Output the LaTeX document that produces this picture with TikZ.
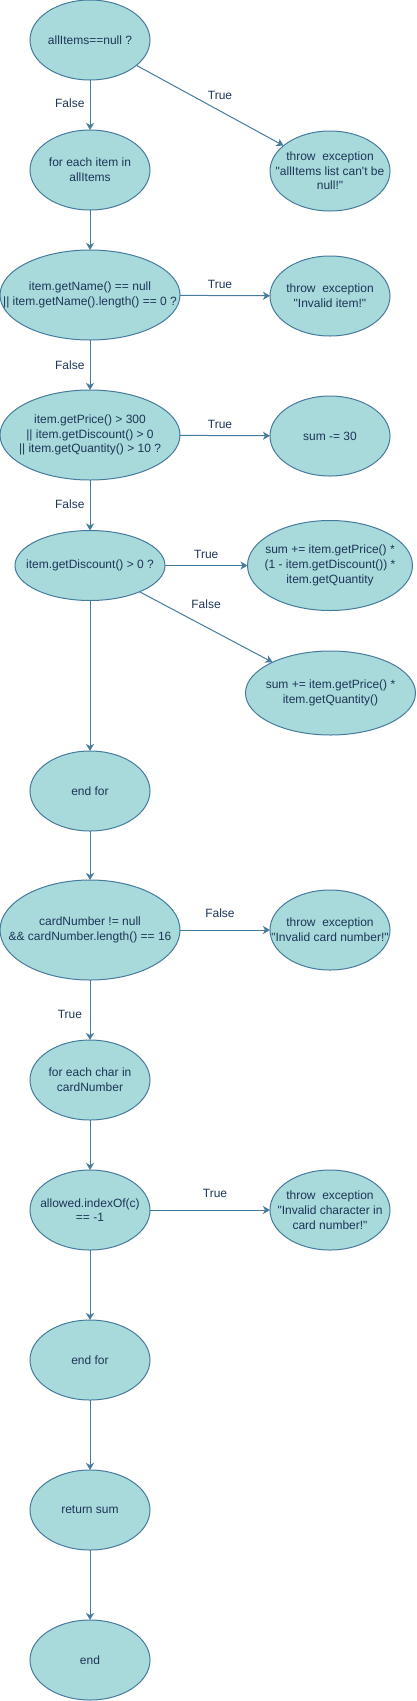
\documentclass[tikz,border=0pt]{standalone}
\usepackage{fontspec}
\setmainfont{Liberation Sans}[Ligatures=TeXOff]
\usetikzlibrary{shapes.geometric,arrows.meta}
\definecolor{fillc}{HTML}{A8DADC}
\definecolor{linec}{HTML}{457B9D}
\definecolor{textc}{HTML}{1D3557}
\begin{document}
\begin{tikzpicture}[x=1pt,y=-1pt,
  el/.style={ellipse, draw=linec, fill=fillc, line width=1pt, inner sep=0pt, outer sep=0pt},
  txt/.style={align=center, text=textc, inner sep=0pt, font=\fontsize{12}{14.7}\selectfont},
  conn/.style={draw=linec, line width=1pt, -{Stealth[length=7pt,width=8pt,inset=2pt]}},
  lbl/.style={text=textc, inner sep=0pt, font=\fontsize{12}{14.7}\selectfont}
]
\useasboundingbox (0,0) rectangle (416,1701);

% left column
\node[el, minimum width=120, minimum height=80, label={[txt]center:{allItems==null ?}}] (a1) at (90,40) {};
\node[el, minimum width=120, minimum height=80, label={[txt]center:{for each item in\\allItems}}] (f1) at (90,170) {};
\node[el, minimum width=180, minimum height=90, label={[txt]center:{item.getName() == null\\|| item.getName().length() == 0 ?}}] (n1) at (90,295) {};
\node[el, minimum width=180, minimum height=90, label={[txt]center:{item.getPrice() > 300\\|| item.getDiscount() > 0\\|| item.getQuantity() > 10 ?}}] (p1) at (90,435) {};
\node[el, minimum width=150, minimum height=70, label={[txt]center:{item.getDiscount() > 0 ?}}] (d1) at (90,565.5) {};
\node[el, minimum width=120, minimum height=80, label={[txt]center:{end for}}] (e1) at (90,791) {};
\node[el, minimum width=180, minimum height=100, label={[txt]center:{cardNumber != null\\\&\& cardNumber.length() == 16}}] (c1) at (90,930) {};
\node[el, minimum width=120, minimum height=80, label={[txt]center:{for each char in\\cardNumber}}] (fc) at (90,1080) {};
\node[el, minimum width=120, minimum height=80, label={[txt]center:{allowed.indexOf(c)\\== -1}}] (al) at (90,1210) {};
\node[el, minimum width=120, minimum height=80, label={[txt]center:{end for}}] (e2) at (90,1360) {};
\node[el, minimum width=120, minimum height=80, label={[txt]center:{return sum}}] (rs) at (90,1510) {};
\node[el, minimum width=120, minimum height=80, label={[txt]center:{end}}] (en) at (90,1660) {};

% right column
\node[el, minimum width=120, minimum height=80, label={[txt]center:{throw\ \ exception\\"allItems list can't be\\null!"}}] (t1) at (330,171) {};
\node[el, minimum width=120, minimum height=80, label={[txt]center:{throw\ \ exception\\"Invalid item!"}}] (t2) at (330,296) {};
\node[el, minimum width=120, minimum height=80, label={[txt]center:{sum -= 30}}] (s1) at (330,436) {};
\node[el, minimum width=165, minimum height=90, label={[txt]center:{sum += item.getPrice() *\\(1 - item.getDiscount()) *\\item.getQuantity}}] (sd) at (330,565.5) {};
\node[el, minimum width=170, minimum height=84, label={[txt]center:{sum += item.getPrice() *\\item.getQuantity()}}] (sq) at (330.5,693) {};
\node[el, minimum width=120, minimum height=80, label={[txt]center:{throw\ \ exception\\"Invalid card number!"}}] (tc) at (330,930) {};
\node[el, minimum width=120, minimum height=80, label={[txt]center:{throw\ \ exception\\"Invalid character in\\card number!"}}] (ti) at (330,1210) {};

% connectors
\draw[conn] (a1) -- node[lbl, left=5pt, yshift=2pt] (l1) {False} (f1);
\draw[conn] (a1) -- node[lbl, xshift=10pt, yshift=10.5pt] (l2) {True} (t1);
\draw[conn] (f1) -- (n1);
\draw[conn] (n1) -- node[lbl, above=6.7pt, xshift=-5pt] (l3) {True} (t2);
\draw[conn] (n1) -- node[lbl, left=5pt] (l4) {False} (p1);
\draw[conn] (p1) -- node[lbl, above=6.4pt, xshift=-5pt] (l5) {True} (s1);
\draw[conn] (p1) -- node[lbl, left=5pt, yshift=1.5pt] (l6) {False} (d1);
\draw[conn] (d1) -- node[lbl, above=6.7pt] (l7) {True} (sd);
\draw[conn] (d1) -- node[lbl, yshift=22.5pt] (l8) {False} (sq);
\draw[conn] (d1) -- (e1);
\draw[conn] (e1) -- (c1);
\draw[conn] (c1) -- node[lbl, above=11.7pt, xshift=-5pt] (l9) {False} (tc);
\draw[conn] (c1) -- node[lbl, left=7.5pt, yshift=-4pt] (l10) {True} (fc);
\draw[conn] (fc) -- (al);
\draw[conn] (al) -- node[lbl, above=12pt, xshift=5pt] (l11) {True} (ti);
\draw[conn] (al) -- (e2);
\draw[conn] (e2) -- (rs);
\draw[conn] (rs) -- (en);
\end{tikzpicture}
\end{document}
